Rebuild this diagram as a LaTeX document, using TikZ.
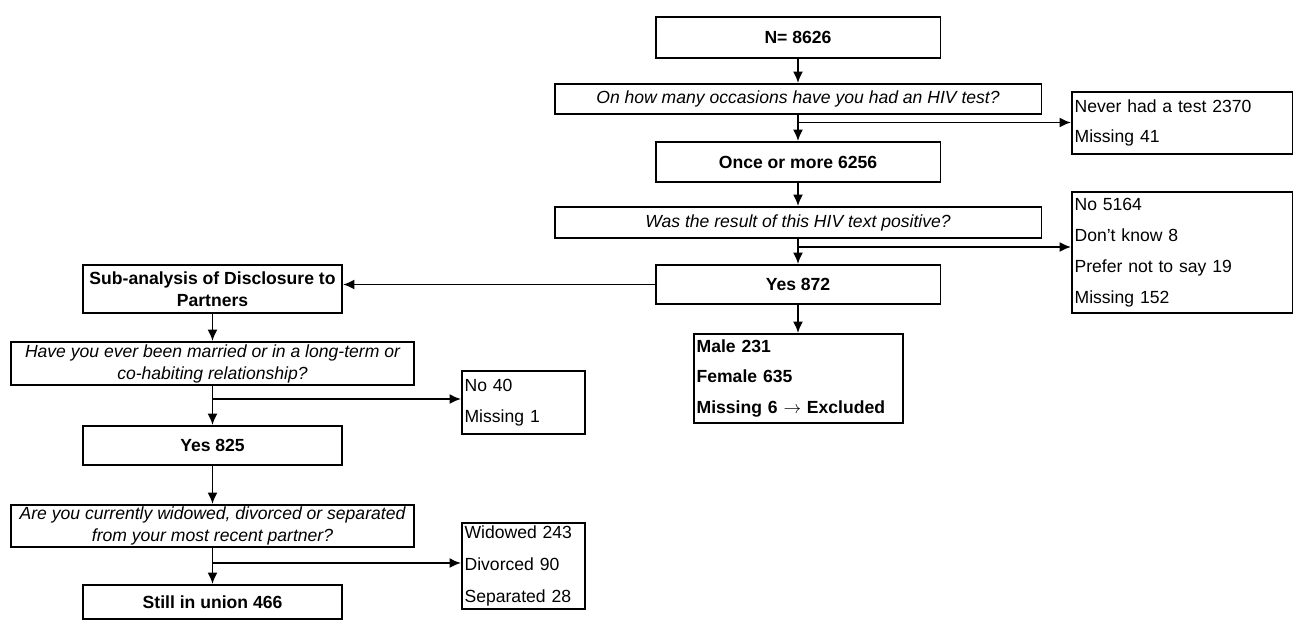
\documentclass[tikz,border=0pt]{standalone}
\usepackage{fontspec}
\setmainfont{Liberation Sans}
\usetikzlibrary{arrows.meta}

\begin{document}
\begin{tikzpicture}[x=0.02cm,y=-0.02cm,
	box/.style={draw,line width=1.1pt,inner sep=0pt,align=center,font=\fontsize{10}{12.5}\selectfont\bfseries},
	qbox/.style={box,font=\fontsize{10}{12.5}\selectfont\itshape},
	lbox/.style={draw,line width=1.1pt,inner xsep=1.5pt,inner ysep=0pt,anchor=north west,align=left,font=\fontsize{10}{17.6}\selectfont},
	arr/.style={line width=1pt,-{Latex[length=2.3mm,width=2mm]}}]
	\useasboundingbox (0,0) rectangle (1293,620);
	\node[box,minimum width=5.7cm,minimum height=0.82cm] (n) at (798,37.5) {N= 8626};
	\node[qbox,minimum width=9.74cm,minimum height=0.6cm] (q1) at (798,99) {On how many occasions have you had an HIV test?};
	\node[box,minimum width=5.7cm,minimum height=0.8cm] (once) at (798,162) {Once or more 6256};
	\node[qbox,minimum width=9.74cm,minimum height=0.62cm] (q2) at (798,222.5) {Was the result of this HIV text positive?};
	\node[box,minimum width=5.7cm,minimum height=0.78cm] (yes872) at (798,284.5) {Yes 872};
	\node[lbox,text width=4.31cm,minimum height=1.24cm] (nev) at (1071,91) {Never had a test 2370\\Missing 41};
	\node[lbox,text width=4.31cm,minimum height=2.42cm] (res) at (1071,191) {No 5164\\Don't know 8\\Prefer not to say 19\\Missing 152};
	\node[lbox,text width=4.07cm,minimum height=1.78cm,font=\fontsize{10}{17.6}\selectfont\bfseries] (male) at (693,333) {Male 231\\Female 635\\Missing 6 $\rightarrow$ Excluded};
	\node[box,minimum width=5.18cm,minimum height=0.96cm] (sub) at (212.5,289) {Sub-analysis of Disclosure to\\Partners};
	\node[qbox,minimum width=8.06cm,minimum height=0.86cm] (q3) at (212.5,363.5) {Have you ever been married or in a long-term or\\co-habiting relationship?};
	\node[lbox,text width=2.35cm,minimum height=1.26cm] (no40) at (461,370) {No 40\\Missing 1};
	\node[box,minimum width=5.18cm,minimum height=0.78cm] (yes825) at (212.5,445.5) {Yes 825};
	\node[qbox,minimum width=8.06cm,minimum height=0.84cm] (q4) at (212.5,526) {Are you currently widowed, divorced or separated\\from your most recent partner?};
	\node[lbox,text width=2.35cm,minimum height=1.72cm,font=\fontsize{10}{18.2}\selectfont] (wid) at (461,522) {Widowed 243\\Divorced 90\\Separated 28};
	\node[box,minimum width=5.18cm,minimum height=0.68cm] (still) at (212.5,602) {Still in union 466};

	\coordinate (b1) at (798,122.5);
	\coordinate (b2) at (798,247);
	\coordinate (b3) at (212.5,399);
	\coordinate (b4) at (212.5,563);
	\draw[arr] (n) -- (q1);
	\draw[arr] (q1) -- (once);
	\draw[arr] (b1) -- (b1 -| nev.west);
	\draw[arr] (once) -- (q2);
	\draw[arr] (q2) -- (yes872);
	\draw[arr] (b2) -- (b2 -| res.west);
	\draw[arr] (yes872) -- (yes872 |- male.north);
	\draw[arr] (yes872.west) -- (yes872.west -| sub.east);
	\draw[arr] (sub) -- (q3);
	\draw[arr] (q3) -- (yes825);
	\draw[arr] (b3) -- (b3 -| no40.west);
	\draw[arr] (yes825) -- (q4);
	\draw[arr] (q4) -- (still);
	\draw[arr] (b4) -- (b4 -| wid.west);
\end{tikzpicture}
\end{document}
